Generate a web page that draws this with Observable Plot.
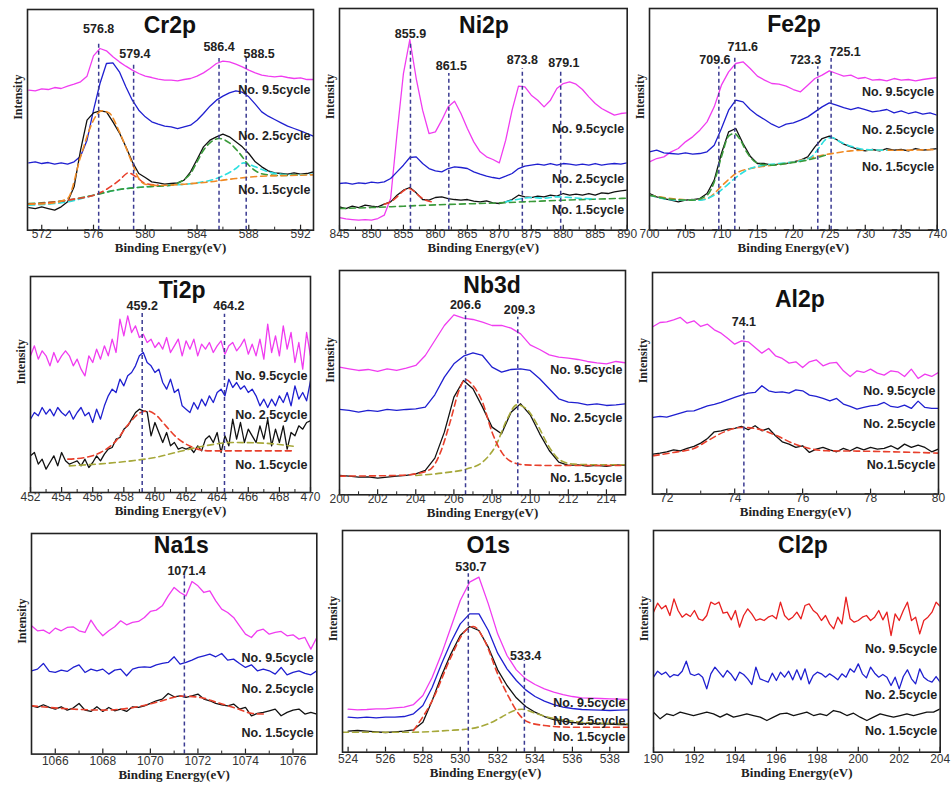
<!DOCTYPE html>
<html><head><meta charset="utf-8">
<script src="https://cdn.jsdelivr.net/npm/d3@7"></script>
<script src="https://cdn.jsdelivr.net/npm/@observablehq/plot@0.6"></script>
<style>
body{margin:0;background:#fff;}
#c{position:relative;width:952px;height:787px;overflow:hidden;background:#fff;}
</style>
</head><body><div id="c"></div>
<script>
// ---------------- DATA (intensity in arbitrary units) ----------------
const cycleNames = ["No. 9.5cycle","No. 2.5cycle","No. 1.5cycle"];
const cycleNamesAl = ["No. 9.5cycle","No. 2.5cycle","No.1.5cycle"];

// Cr2p
const crRange = [571, 593];
const cr95 = [530,528,534,532,538,535,542,548,555,572,633,655,648,630,615,602,590,580,572,568,563,560,560,558,562,565,572,582,595,610,617,615,608,600,590,582,575,572,570,572,568,565,567,562,562];
const cr25 = [312,315,310,313,308,312,308,315,332,380,470,550,610,612,585,540,500,470,450,435,428,422,420,415,420,425,440,460,482,500,512,522,528,524,510,488,465,452,442,432,422,415,408,400,392];
const cr15 = [178,175,180,175,170,180,195,240,350,440,462,468,465,435,402,360,315,280,268,255,252,248,250,252,260,285,322,360,380,390,398,390,375,360,340,315,300,288,282,280,278,282,278,280,285];
const crFitOrange = [[571,188],[572.5,190],[574,205],[575,330],[576,440],[576.6,468],[577.2,462],[578,405],[579,310],[579.5,265],[580,248],[581,244],[583,248],[585,255],[587,265],[589,272],[591,274],[593,276]];
const crFitRed = [[571,188],[574,200],[576.5,222],[578,260],[578.7,282],[579.3,270],[580,250],[581,245]];
const crFitCyan = [[571,185],[574,195],[576,215],[578,232],[580,240],[582,245],[584,252],[585.5,265],[587,295],[587.6,312],[588.5,300],[589.5,285],[590.5,278],[592,276],[593,278]];
const crFitGreen = [[571,190],[574,200],[576,215],[578,232],[580,240],[582,245],[583,262],[583.5,280],[584,315],[584.5,350],[585,372],[585.7,385],[586.5,372],[587.3,340],[588,305],[588.8,282],[589.5,276],[590.5,274],[592,276]];
const crTicks = [572,576,580,584,588,592];
const crPeaks = [
  {label:"576.8", x:576.4, top:670, lx:576.4, ly:715},
  {label:"579.4", x:579.1, top:605, lx:579.2, ly:640},
  {label:"586.4", x:585.7, top:625, lx:585.7, ly:660},
  {label:"588.5", x:587.8, top:625, lx:588.8, ly:640}];

// Ni2p
const niRange = [845, 890];
const ni95 = [148,144,142,140,142,140,145,155,205,400,580,682,565,470,400,405,440,480,497,460,415,375,345,330,322,312,380,470,542,540,515,500,480,500,535,550,555,548,532,510,490,475,465,455,460,462];
const ni25 = [250,252,248,252,250,254,252,255,265,285,305,328,330,310,295,288,285,295,300,298,295,285,278,272,268,265,272,280,295,302,305,308,305,310,305,310,308,305,308,305,310,305,308,310,308,312];
const ni15 = [180,175,182,178,185,182,180,188,195,215,230,238,222,202,200,208,210,205,202,200,202,197,195,198,192,190,195,202,215,210,208,212,210,215,212,220,215,218,215,220,215,222,220,225,228,230];
const niFitRed = [[852,188],[853,195],[854,210],[855,228],[855.8,235],[856.6,228],[857.5,212],[858.5,200],[859.5,195]];
const niFitGreen = [[845,175],[850,178],[855,182],[860,186],[865,189],[870,192],[875,196],[880,200],[885,203],[890,206]];
const niFitCyan = [[871,195],[873,203],[875,208],[877,206],[879,210],[881,208],[883,205],[885,204]];
const niTicks = [845,850,855,860,865,870,875,880,885,890];
const niPeaks = [
  {label:"855.9", x:856.1, top:670, lx:856.1, ly:700},
  {label:"861.5", x:862.1, top:580, lx:862.5, ly:602},
  {label:"873.8", x:873.6, top:595, lx:873.6, ly:620},
  {label:"879.1", x:879.6, top:590, lx:880.1, ly:613}];

// Fe2p
const feRange = [700, 740];
const fe95 = [315,325,330,345,355,375,390,410,435,480,545,585,610,615,595,572,560,550,548,542,532,525,545,565,575,588,580,572,575,565,568,560,562,558,565,560,562,558,562,565,568];
const fe25 = [345,350,342,340,338,342,338,340,345,365,415,470,500,495,472,455,442,428,418,428,432,440,450,465,480,492,485,478,472,478,472,465,468,472,462,468,460,465,458,462,455];
const fe15 = [220,210,205,200,195,200,202,205,220,260,340,405,415,370,332,310,310,305,308,310,315,320,330,360,385,392,382,368,360,352,348,352,348,355,350,352,348,355,350,352,355];
const feFitGreen = [[700,215],[703,203],[706,200],[708,215],[709,255],[710,330],[711,392],[711.8,400],[712.5,385],[713.5,345],[714.5,318],[715.5,308],[717,305],[719,310],[721,316],[723,326],[724.5,335]];
const feFitOrange = [[700,215],[703,205],[706,200],[708,205],[709,220],[710,242],[711,262],[712,280],[714,295],[716,302],[718,308],[720,315],[722,325],[724,335],[726,342],[728,348],[731,350],[735,350],[740,352]];
const feFitCyan = [[700,215],[704,200],[707,200],[709,215],[710.5,240],[712,268],[714,295],[716,305],[719,312],[721,318],[722.5,330],[723.5,355],[724.5,382],[725.3,388],[726.5,375],[728,362],[730,352],[733,350]];
const feTicks = [700,705,710,715,720,725,730,735,740];
const fePeaks = [
  {label:"709.6", x:709.64, top:600, lx:709.1, ly:620},
  {label:"711.6", x:711.86, top:635, lx:712.97, ly:660},
  {label:"723.3", x:723.4, top:600, lx:721.7, ly:620},
  {label:"725.1", x:725.25, top:625, lx:727.2, ly:645}];

// Ti2p
const tiRange = [452, 470];
const ti95 = [500,530,490,515,500,470,510,480,500,515,500,470,490,460,440,500,480,520,490,530,500,550,510,610,560,620,570,590,555,565,540,550,525,540,520,555,510,530,550,500,545,520,550,500,535,520,540,510,530,545,505,530,540,515,530,550,505,535,500,550,490,595,510,560,500,590,520,570,480,540,460,570,500];
const ti25 = [310,330,320,345,325,340,320,345,330,320,335,310,330,345,320,330,300,340,310,350,380,400,390,430,410,440,450,470,500,510,480,470,450,460,420,400,430,390,400,350,340,330,360,340,370,350,380,360,390,400,380,430,405,420,400,410,390,400,380,350,370,345,370,350,380,360,390,350,410,370,390,365,425];
const ti15 = [200,210,175,190,160,180,200,170,210,185,175,180,185,170,190,165,180,200,185,205,220,225,250,255,280,290,310,330,340,335,332,260,300,270,240,270,230,240,220,225,220,225,210,230,215,250,260,240,270,210,260,230,310,250,300,240,280,260,240,290,250,310,230,280,240,290,220,270,260,290,280,300,305];
const tiFitRed = [[454.4,190],[455.5,195],[456.5,210],[457.5,245],[458.3,295],[459,328],[459.5,335],[460,325],[460.7,290],[461.4,255],[462.3,228],[463.5,215],[466,215],[469,215]];
const tiFitOlive = [[454.5,170],[456.5,176],[458.5,185],[460,195],[461.5,212],[463,228],[465,240],[467,238],[469,228]];
const tiTicks = [452,454,456,458,460,462,464,466,468,470];
const tiPeaks = [
  {label:"459.2", x:459.18, top:630, lx:459.18, ly:650},
  {label:"464.2", x:464.47, top:625, lx:464.75, ly:650}];

// Nb3d
const nbRange = [200, 215];
const nb95 = [465,460,455,458,452,460,455,462,470,500,545,590,622,612,608,600,590,590,582,565,532,518,502,495,492,488,482,478,475,482,478];
const nb25 = [338,335,330,335,332,338,335,338,340,345,382,435,475,498,508,500,465,450,458,460,455,430,400,370,360,358,352,355,350,352,355];
const nb15 = [140,138,135,136,132,135,138,140,145,155,192,270,375,425,400,345,285,265,330,355,322,265,215,180,170,172,168,170,167,172,170];
const nbFitRed = [[200,138],[203,140],[204,145],[204.8,160],[205.3,210],[205.8,300],[206.3,400],[206.6,428],[207,410],[207.5,360],[208,270],[208.5,210],[209,182],[209.7,172],[211,170],[213,170],[215,170]];
const nbFitOlive = [[204,140],[205.5,148],[206.7,160],[207.5,180],[208.2,230],[208.8,310],[209.3,352],[209.8,340],[210.4,290],[211,225],[211.6,185],[212.3,174],[213.5,172],[215,172]];
const nbTicks = [200,202,204,206,208,210,212,214];
const nbPeaks = [
  {label:"206.6", x:206.61, top:632, lx:206.61, ly:650},
  {label:"209.3", x:209.35, top:615, lx:209.44, ly:635}];

// Al2p
const alRange = [71.6, 80];
const al95 = [588,600,602,608,615,598,605,588,595,578,568,552,535,545,542,525,508,522,500,492,478,482,465,482,488,470,478,480,455,438,455,450,460,448,442,455,452,438,460,432,445,438,450];
const al25 = [315,318,316,322,328,334,335,342,350,354,360,368,375,382,388,390,410,395,390,392,388,398,395,382,378,372,365,372,355,348,340,345,350,352,360,348,345,352,342,364,345,342,342];
const al15 = [205,208,212,218,215,222,228,238,252,272,275,280,282,288,278,290,275,282,260,242,235,225,230,210,220,225,218,212,222,215,225,218,225,220,222,230,220,235,225,232,225,212,220];
const alFitRed = [[71.6,200],[72.2,210],[72.8,222],[73.2,245],[73.7,272],[74.2,285],[74.7,280],[75.2,262],[75.7,238],[76.2,222],[76.7,215],[77.6,214],[78.6,212],[80,208]];
const alTicks = [72,74,76,78,80];
const alPeaks = [{label:"74.1", x:74.27, top:575, lx:74.27, ly:600}];

// Na1s
const naRange = [1065, 1077];
const na95 = [485,470,472,462,478,470,480,482,470,465,502,475,455,470,482,500,488,495,498,510,528,532,545,575,600,585,575,618,605,585,590,560,535,525,510,485,460,450,470,475,460,465,468,455,458,445,450,415,450];
const na25 = [350,355,372,348,345,352,348,360,368,345,355,350,355,340,352,355,335,355,360,362,360,368,372,375,392,370,375,382,390,395,400,392,402,382,385,372,360,368,350,355,350,340,360,338,345,350,342,338,350];
const na15 = [245,240,248,240,235,242,232,238,252,232,228,242,228,240,230,235,228,242,240,245,252,260,265,282,272,275,270,275,280,265,260,252,248,245,250,235,240,215,222,225,230,235,215,225,232,235,220,225,220];
const naFitRed = [[1065,245],[1066.5,236],[1068,232],[1069.3,240],[1070.4,258],[1071.3,274],[1072.1,270],[1072.8,255],[1073.5,240],[1074.3,222],[1074.8,220]];
const naTicks = [1066,1068,1070,1072,1074,1076];
const naPeaks = [{label:"1071.4", x:1071.43, top:635, lx:1071.52, ly:650}];

// O1s
const oRange = [524, 539];
const o95 = [234,232,233,235,235,238,240,248,275,330,400,480,560,615,630,550,460,395,352,325,308,295,285,278,272,268,267,266,265,264,263];
const o25 = [210,208,210,208,210,210,212,220,245,300,370,435,490,520,520,470,402,355,320,292,272,258,248,240,236,233,232,231,230,231,232];
const o15 = [168,170,168,166,164,166,168,172,195,260,335,400,455,482,470,420,352,305,268,242,225,212,203,198,194,192,191,190,189,188,188];
const oFitRed = [[527.5,170],[528.5,260],[529.5,390],[530.2,465],[530.7,482],[531.3,440],[532,340],[532.6,270],[533.1,222],[533.6,196],[534.5,185],[535.9,180],[539,180]];
const oFitOlive = [[523.7,165],[527.5,165],[529.3,170],[530.6,176],[531.5,190],[532.2,210],[532.9,230],[533.3,234],[534,222],[534.7,210],[535.8,200],[536.5,195],[539,190]];
const oTicks = [524,526,528,530,532,534,536,538];
const oPeaks = [
  {label:"530.7", x:530.43, top:640, lx:530.57, ly:660},
  {label:"533.4", x:533.43, top:380, lx:533.5, ly:395}];

// Cl2p
const clRange = [190, 204];
const cl95 = [525,552,535,545,515,565,530,510,520,512,530,505,500,515,555,548,555,522,525,502,530,480,515,535,520,500,505,500,510,515,505,555,515,502,510,525,505,545,550,530,520,500,515,490,475,510,490,570,505,495,500,510,515,500,510,530,502,525,455,520,500,530,555,500,510,460,500,510,525,555,542];
const cl25 = [330,348,338,345,330,338,335,348,378,340,335,340,330,295,340,360,345,330,350,338,320,345,338,325,308,360,325,320,315,342,320,345,330,348,322,352,322,355,310,335,345,340,330,340,332,322,340,330,355,345,370,340,328,360,342,330,338,330,305,330,295,332,352,325,310,355,330,320,315,332,315];
const cl15 = [225,205,220,215,225,220,215,220,225,220,210,220,210,215,220,215,210,200,210,220,222,215,220,225,215,220,215,230,225,215,222,210,200,210,220,215,210,215,220,215,220,225,225,235];
const clTicks = [190,192,194,196,198,200,202,204];

// ---------------- STYLES ----------------
const MAG = "#f03cf0", BLU = "#1f1fd0", BLK = "#111111", RED = "#e82020";
const C_OR = "#f08a24", C_RD = "#e8402c", C_CY = "#2ee0e0", C_GR = "#3a9a3a", C_OL = "#a6a83a";
const VLINE = "#3b3b92";
const SANS = "Liberation Sans, Arial, sans-serif";
const SERIF = "Liberation Serif, Times New Roman, serif";

const panels = [
  {name:"Cr2p", L:27.3, R:313.3, T:9.3, B:230, xd:[570.9,593.0], yd:[110,772],
   series:[[crRange,cr95,MAG],[crRange,cr25,BLU],[crRange,cr15,BLK]],
   fits:[[crFitCyan,C_CY],[crFitGreen,C_GR],[crFitRed,C_RD],[crFitOrange,C_OR]],
   ticks:crTicks, minorStep:2, peaks:crPeaks, title:[581.9,725], cyc:[532,392,232], names:cycleNames, tickDy:8, titleDy:22},
  {name:"Ni2p", L:339, R:626.7, T:8.3, B:230, xd:[845,890], yd:[110,775],
   series:[[niRange,ni95,MAG],[niRange,ni25,BLU],[niRange,ni15,BLK]],
   fits:[[niFitGreen,C_GR],[niFitCyan,C_CY],[niFitRed,C_RD]],
   ticks:niTicks, minorStep:2.5, peaks:niPeaks, title:[867.6,725], cyc:[415,263,172], names:cycleNames, tickDy:8, titleDy:22},
  {name:"Fe2p", L:649, R:936.7, T:8.3, B:230, xd:[700,740], yd:[110,775],
   series:[[feRange,fe95,MAG],[feRange,fe25,BLU],[feRange,fe15,BLK]],
   fits:[[feFitOrange,C_OR],[feFitCyan,C_CY],[feFitGreen,C_GR]],
   ticks:feTicks, minorStep:2.5, peaks:fePeaks, title:[720.1,728], cyc:[525,412,300], names:cycleNames, tickDy:8, titleDy:22},
  {name:"Ti2p", L:30, R:310, T:275.7, B:491.7, xd:[452,470], yd:[90,738],
   series:[[tiRange,ti95,MAG],[tiRange,ti25,BLU],[tiRange,ti15,BLK]],
   fits:[[tiFitOlive,C_OL],[tiFitRed,C_RD]],
   ticks:tiTicks, minorStep:1, peaks:tiPeaks, title:[461.75,695], cyc:[440,322,172], names:cycleNames, tickDy:8, titleDy:22},
  {name:"Nb3d", L:339, R:625, T:270, B:494.3, xd:[200,215], yd:[82,755],
   series:[[nbRange,nb95,MAG],[nbRange,nb25,BLU],[nbRange,nb15,BLK]],
   fits:[[nbFitOlive,C_OL],[nbFitRed,C_RD]],
   ticks:nbTicks, minorStep:1, peaks:nbPeaks, title:[208.0,710], cyc:[455,312,132], names:cycleNames, tickDy:8, titleDy:22},
  {name:"Al2p", L:652.3, R:938.3, T:271.7, B:493.3, xd:[71.58,80], yd:[85,750],
   series:[[alRange,al95,MAG],[alRange,al25,BLU],[alRange,al15,BLK]],
   fits:[[alFitRed,C_RD]],
   ticks:alTicks, minorStep:1, peaks:alPeaks, title:[75.92,670], cyc:[395,295,172], names:cycleNamesAl, tickDy:8, titleDy:22},
  {name:"Na1s", L:30.7, R:316, T:532.7, B:753.3, xd:[1065,1077], yd:[100,762],
   series:[[naRange,na95,MAG],[naRange,na25,BLU],[naRange,na15,BLK]],
   fits:[[naFitRed,C_RD]],
   ticks:naTicks, minorStep:1, peaks:naPeaks, title:[1071.3,725], cyc:[388,295,163], names:cycleNames, tickDy:11, titleDy:25},
  {name:"O1s", L:342.3, R:628.3, T:530, B:751.7, xd:[523.7,539], yd:[105,770],
   series:[[oRange,o95,MAG],[oRange,o25,BLU],[oRange,o15,BLK]],
   fits:[[oFitOlive,C_OL],[oFitRed,C_RD]],
   ticks:oTicks, minorStep:1, peaks:oPeaks, title:[531.5,725], cyc:[252,200,150], names:cycleNames, tickDy:11, titleDy:25},
  {name:"Cl2p", L:653.3, R:940, T:530, B:751.7, xd:[190,204], yd:[105,770],
   series:[[clRange,cl95,RED],[clRange,cl25,BLU],[clRange,cl15,BLK]],
   fits:[],
   ticks:clTicks, minorStep:1, peaks:[], title:[197.3,725], cyc:[415,278,168], names:cycleNames, tickDy:11, titleDy:25}
];

const container = document.getElementById("c");

function toPoints(range, vals) {
  const n = vals.length;
  return vals.map((v, i) => ({x: range[0] + (range[1] - range[0]) * i / (n - 1), y: v}));
}

function drawPanel(p) {
  const mL = 34, mR = 8, mT = 10, mB = 36;
  const W = p.R - p.L, H = p.B - p.T;
  const [y0, y1] = p.yd;
  const perPx = (y1 - y0) / H;
  const minor = [];
  for (let i = 0; i < p.ticks.length - 1; i++) {
    const m = p.ticks[i] + p.minorStep;
    if (m < p.ticks[i + 1]) minor.push(m);
  }
  const marks = [];
  p.series.forEach(([range, vals, color]) => {
    marks.push(Plot.line(toPoints(range, vals), {x: "x", y: "y", stroke: color, strokeWidth: 1.3, clip: true}));
  });
  p.fits.forEach(([pts, color]) => {
    marks.push(Plot.line(pts, {x: d => d[0], y: d => d[1], stroke: color, strokeWidth: 1.6,
      strokeDasharray: "6,4", curve: "monotone-x", clip: true}));
  });
  marks.push(Plot.ruleX(p.peaks, {x: "x", y1: y0, y2: "top", stroke: VLINE, strokeWidth: 1.5, strokeDasharray: "4,3"}));
  marks.push(Plot.frame({stroke: "#222", strokeWidth: 1.6}));
  marks.push(Plot.ruleX(p.ticks, {x: d => d, y1: y0, y2: y0 + 5 * perPx, stroke: "#222", strokeWidth: 1.2}));
  marks.push(Plot.ruleX(minor, {x: d => d, y1: y0, y2: y0 + 3 * perPx, stroke: "#222", strokeWidth: 1}));
  marks.push(Plot.text(p.ticks, {x: d => d, frameAnchor: "bottom", dy: p.tickDy, text: d => String(d),
    fontSize: 12, fill: "#333", fontFamily: SANS}));
  marks.push(Plot.text(["Binding Energy(eV)"], {frameAnchor: "bottom", dy: p.titleDy, text: d => d,
    fontFamily: SERIF, fontWeight: "bold", fontSize: 13, fill: "#222"}));
  marks.push(Plot.text(["Intensity"], {frameAnchor: "left", dx: -9, rotate: -90, text: d => d,
    fontFamily: SERIF, fontWeight: "bold", fontSize: 12, fill: "#222"}));
  marks.push(Plot.text([p.name], {x: p.title[0], y: p.title[1], text: d => d,
    fontFamily: SANS, fontWeight: "bold", fontSize: 23, fill: "#111"}));
  marks.push(Plot.text(p.peaks, {x: "lx", y: "ly", text: "label", fontFamily: SANS, fontWeight: "bold",
    fontSize: 12.5, fill: "#222"}));
  marks.push(Plot.text(p.names.map((t, i) => ({t, y: p.cyc[i]})), {x: p.xd[1], y: "y", text: "t",
    textAnchor: "end", dx: -3, fontFamily: SANS, fontWeight: "bold", fontSize: 12.5, fill: "#222"}));

  const svg = Plot.plot({
    width: W + mL + mR, height: H + mT + mB,
    marginLeft: mL, marginRight: mR, marginTop: mT, marginBottom: mB,
    x: {domain: p.xd, axis: null},
    y: {domain: p.yd, axis: null},
    style: {background: "none", overflow: "visible", fontFamily: SANS},
    marks
  });
  svg.style.position = "absolute";
  svg.style.left = (p.L - mL) + "px";
  svg.style.top = (p.T - mT) + "px";
  svg.style.maxWidth = "none";
  container.append(svg);
}

panels.forEach(drawPanel);
</script>
</body></html>
